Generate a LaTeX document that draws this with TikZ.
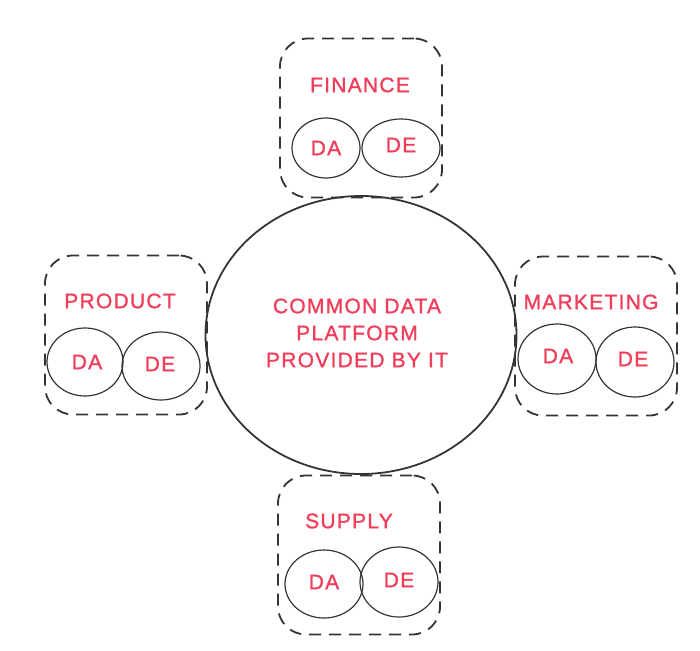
\documentclass[tikz,border=0pt]{standalone}
\usepackage{fontspec}
\usetikzlibrary{shapes.geometric}
\newfontfamily\handfont[LetterSpace=6,FakeBold=1.2]{Liberation Sans}
\definecolor{inkred}{RGB}{240,62,90}
\definecolor{inkgray}{RGB}{52,52,56}
\begin{document}
\begin{tikzpicture}[x=1pt,y=-1pt,
	grp/.style={draw=inkgray, line width=1.8pt, dash pattern=on 12pt off 8pt, rounded corners=28pt, minimum width=162pt, minimum height=159pt},
	team/.style={ellipse, draw=inkgray, line width=1.2pt, inner sep=0pt},
	lbl/.style={text=inkred, font=\handfont\fontsize{21}{27}\selectfont, align=center}]
	
	\useasboundingbox (0,0) rectangle (700,650);
	
	\node [draw=inkgray, line width=1.8pt, ellipse, minimum width=311pt, minimum height=278pt] (cdp) at (361,335) {};
	\node [lbl] (cdptxt) at (357,333) {COMMON DATA\\PLATFORM\\PROVIDED BY IT};
	
	\node [grp] (fin) at (361,118) {};
	\node [lbl] (finlbl) at (360,85) {FINANCE};
	\node [team, minimum width=68pt, minimum height=60pt] (finda) at (326,148) {};
	\node [team, minimum width=78pt, minimum height=58pt] (finde) at (401,148) {};
	\node [lbl] at (finda) {DA};
	\node [lbl] at (401,145) {DE};
	
	\node [grp] (prod) at (126,335) {};
	\node [lbl] (prodlbl) at (120,301) {PRODUCT};
	\node [team, minimum width=76pt, minimum height=68pt] (prodda) at (85,362) {};
	\node [team, minimum width=78pt, minimum height=68pt] (prodde) at (161,366) {};
	\node [lbl] at (87,362) {DA};
	\node [lbl] at (160,364) {DE};
	
	\node [grp] (mkt) at (596,336) {};
	\node [lbl] (mktlbl) at (591,302) {MARKETING};
	\node [team, minimum width=78pt, minimum height=70pt] (mktda) at (557,359) {};
	\node [team, minimum width=78pt, minimum height=70pt] (mktde) at (635,362) {};
	\node [lbl] at (558,356) {DA};
	\node [lbl] at (633,359) {DE};
	
	\node [grp] (sup) at (359,555) {};
	\node [lbl] (suplbl) at (349,521) {SUPPLY};
	\node [team, minimum width=78pt, minimum height=68pt] (supda) at (324,584) {};
	\node [team, minimum width=78pt, minimum height=70pt] (supde) at (399,582) {};
	\node [lbl] at (324,582) {DA};
	\node [lbl] at (399,580) {DE};
	
\end{tikzpicture}
\end{document}
